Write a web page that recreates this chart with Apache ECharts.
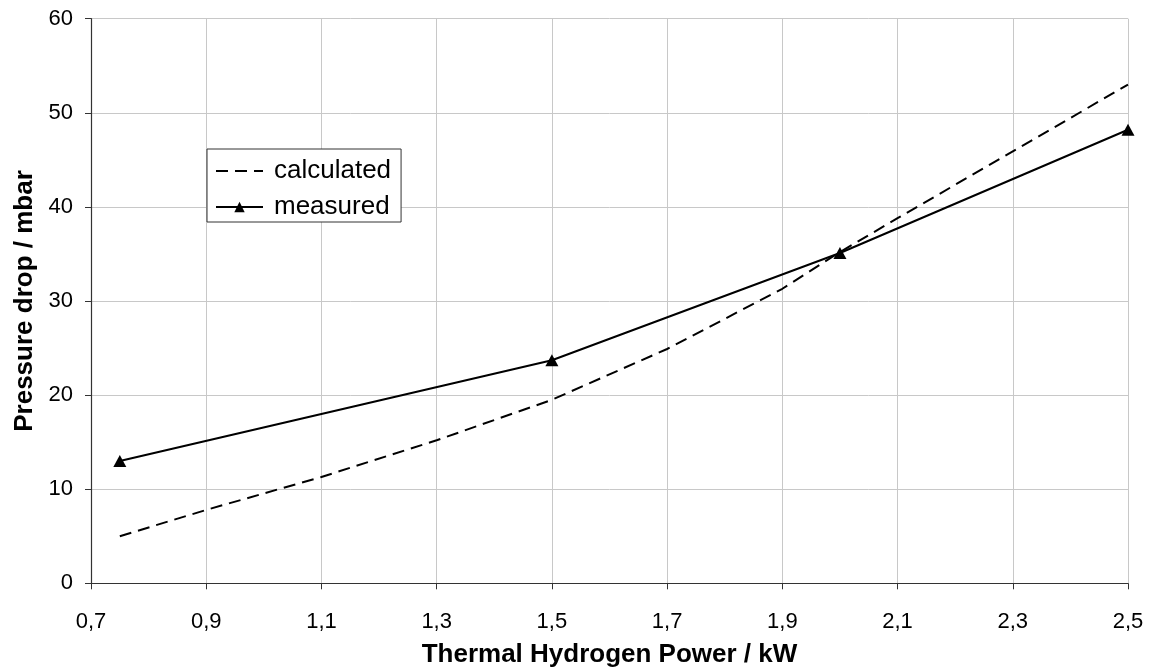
<!DOCTYPE html>
<html>
<head>
<meta charset="utf-8">
<script src="https://cdn.jsdelivr.net/npm/echarts@6/dist/echarts.min.js"></script>
<style>
html,body{margin:0;padding:0;background:#fff;}
#main{width:1151px;height:670px;}
</style>
</head>
<body>
<div id="main"></div>
<script>
// ---- data ----
const calcX = [0.75, 0.9, 1.1, 1.3, 1.5, 1.7, 1.9, 2.0, 2.1, 2.3, 2.5];
const calcY = [5.0, 7.8, 11.3, 15.2, 19.5, 24.9, 31.3, 35.2, 38.8, 45.9, 53.0];
const measX = [0.75, 1.5, 2.0, 2.5];
const measY = [13.0, 23.7, 35.1, 48.2];
const seriesNames = ['calculated', 'measured'];
const xAxisTitle = 'Thermal Hydrogen Power / kW';
const yAxisTitle = 'Pressure drop / mbar';

const FONT = '"Liberation Sans", Arial, sans-serif';
const chart = echarts.init(document.getElementById('main'), null, {renderer: 'canvas'});
const option = {
  animation: false,
  backgroundColor: '#fff',
  grid: {left: 91, right: 23, top: 18.7, bottom: 86.7, containLabel: false, outerBoundsMode: 'none'},
  legend: {
    orient: 'vertical',
    left: 207, top: 149,
    padding: [9, 10, 2, 8],
    itemGap: 10,
    itemWidth: 47,
    itemHeight: 13,
    borderColor: '#333', borderWidth: 1,
    backgroundColor: '#fff',
    textStyle: {fontFamily: FONT, fontSize: 26, color: '#000', padding: [0, 0, 0, 6]},
    data: [
      {name: seriesNames[0], itemStyle: {opacity: 0}},
      {name: seriesNames[1]}
    ]
  },
  xAxis: {
    type: 'value', min: 0.7, max: 2.5, interval: 0.2,
    name: xAxisTitle, nameLocation: 'middle', nameGap: 59,
    nameTextStyle: {fontFamily: FONT, fontSize: 26, fontWeight: 'bold', color: '#000'},
    axisLine: {show: true, lineStyle: {color: '#333', width: 1.2}},
    axisTick: {show: true, length: 6, lineStyle: {color: '#333'}},
    axisLabel: {fontFamily: FONT, fontSize: 22, color: '#000', margin: 28,
      formatter: v => v.toFixed(1).replace('.', ',')},
    splitLine: {show: true, lineStyle: {color: '#c8c8c8', width: 1}}
  },
  yAxis: {
    type: 'value', min: 0, max: 60, interval: 10,
    name: yAxisTitle, nameLocation: 'middle', nameGap: 50,
    nameTextStyle: {fontFamily: FONT, fontSize: 26, fontWeight: 'bold', color: '#000'},
    axisLine: {show: true, lineStyle: {color: '#333', width: 1.2}},
    axisTick: {show: true, length: 6, lineStyle: {color: '#333'}},
    axisLabel: {fontFamily: FONT, fontSize: 22, color: '#000', margin: 18},
    splitLine: {show: true, lineStyle: {color: '#c8c8c8', width: 1}}
  },
  series: [
    {
      name: seriesNames[0], type: 'line',
      data: calcX.map((x, i) => [x, calcY[i]]),
      symbol: 'none',
      lineStyle: {color: '#000', width: 2, type: [12, 7]},
      itemStyle: {color: '#000'}
    },
    {
      name: seriesNames[1], type: 'line',
      data: measX.map((x, i) => [x, measY[i]]),
      symbol: 'triangle', symbolSize: [13, 12],
      lineStyle: {color: '#000', width: 2},
      itemStyle: {color: '#000'}
    }
  ]
};
chart.setOption(option);
</script>
</body>
</html>
